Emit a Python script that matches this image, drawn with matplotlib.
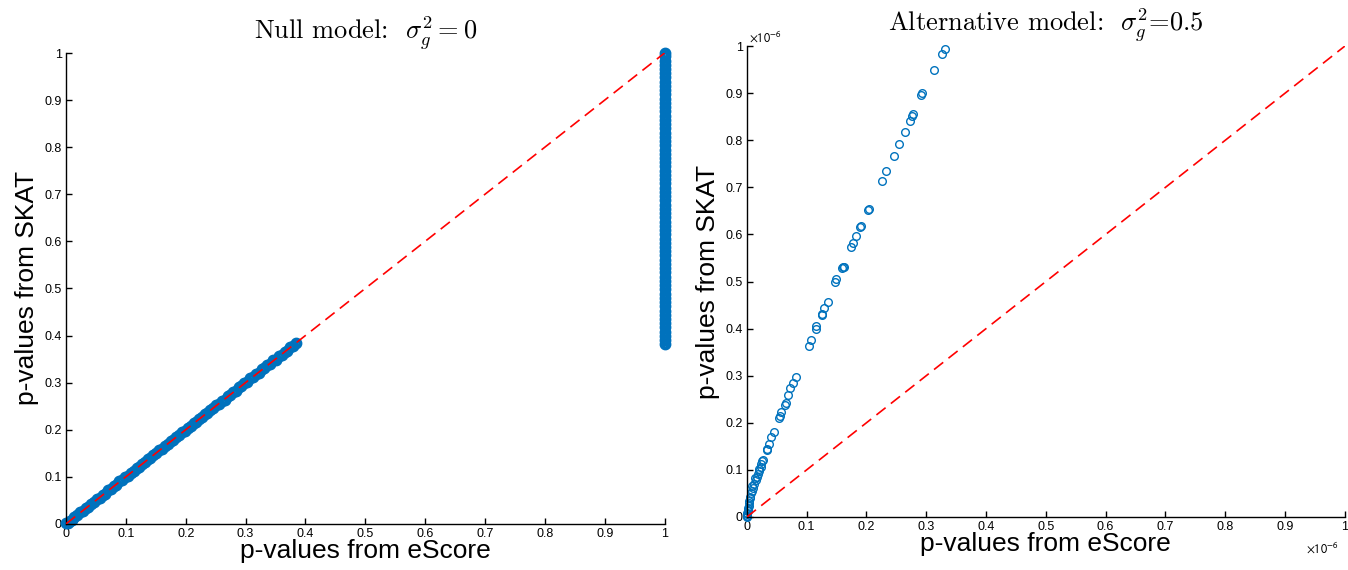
"""
Two QQ-style scatter panels: SKAT p-values against eScore p-values,
under the null model and under the alternative model.
"""

import matplotlib
matplotlib.use("Agg")
import matplotlib.pyplot as plt
from matplotlib.ticker import FormatStrFormatter


# null model: points lying on the diagonal
null_escore_diag = [
    0.000, 0.003, 0.006, 0.010, 0.014, 0.019, 0.024, 0.028, 0.033, 0.037,
    0.042, 0.047, 0.051, 0.056, 0.061, 0.065, 0.070, 0.075, 0.080, 0.084,
    0.089, 0.094, 0.099, 0.103, 0.108, 0.113, 0.118, 0.122, 0.127, 0.132,
    0.137, 0.141, 0.146, 0.151, 0.156, 0.160, 0.165, 0.170, 0.175, 0.179,
    0.184, 0.189, 0.194, 0.198, 0.203, 0.208, 0.213, 0.217, 0.222, 0.227,
    0.232, 0.236, 0.241, 0.246, 0.251, 0.255, 0.260, 0.265, 0.270, 0.274,
    0.279, 0.284, 0.289, 0.293, 0.298, 0.303, 0.308, 0.312, 0.317, 0.322,
    0.327, 0.331, 0.336, 0.341, 0.346, 0.350, 0.355, 0.360, 0.365, 0.369,
    0.374, 0.379, 0.384,
]
null_skat_diag = [
    0.001, 0.002, 0.007, 0.009, 0.015, 0.018, 0.025, 0.027, 0.034, 0.036,
    0.043, 0.046, 0.052, 0.055, 0.062, 0.064, 0.071, 0.074, 0.081, 0.083,
    0.090, 0.093, 0.100, 0.102, 0.109, 0.112, 0.119, 0.121, 0.128, 0.131,
    0.138, 0.140, 0.147, 0.150, 0.157, 0.159, 0.166, 0.169, 0.176, 0.178,
    0.185, 0.188, 0.195, 0.197, 0.204, 0.207, 0.214, 0.216, 0.223, 0.226,
    0.233, 0.235, 0.242, 0.245, 0.252, 0.254, 0.261, 0.264, 0.271, 0.273,
    0.280, 0.283, 0.290, 0.292, 0.299, 0.302, 0.309, 0.311, 0.318, 0.321,
    0.328, 0.330, 0.337, 0.340, 0.347, 0.349, 0.356, 0.359, 0.366, 0.368,
    0.375, 0.378, 0.385,
]

# null model: eScore p-value of 1, SKAT p-values spread from ~0.38 to 1
null_skat_col = [
    0.382, 0.390, 0.399, 0.408, 0.417, 0.426, 0.435, 0.444, 0.453, 0.462,
    0.471, 0.480, 0.489, 0.498, 0.507, 0.516, 0.525, 0.534, 0.543, 0.552,
    0.561, 0.570, 0.579, 0.588, 0.597, 0.606, 0.615, 0.624, 0.633, 0.642,
    0.651, 0.660, 0.669, 0.678, 0.687, 0.696, 0.705, 0.714, 0.723, 0.732,
    0.741, 0.750, 0.759, 0.768, 0.777, 0.786, 0.795, 0.804, 0.813, 0.822,
    0.831, 0.840, 0.849, 0.858, 0.867, 0.876, 0.885, 0.894, 0.903, 0.912,
    0.921, 0.930, 0.939, 0.948, 0.957, 0.966, 0.975, 0.984, 0.993, 1.000,
]
null_escore_col = [1.0] * len(null_skat_col)

# alternative model, values in units of 1e-6
alt_escore = [
    0.000, 0.000, 0.001, 0.001, 0.001, 0.002, 0.002, 0.002, 0.003, 0.004,
    0.004, 0.005, 0.006, 0.007, 0.008, 0.009, 0.011, 0.012, 0.013, 0.015,
    0.017, 0.019, 0.020, 0.021, 0.023, 0.024, 0.025, 0.027, 0.033, 0.034,
    0.037, 0.041, 0.045, 0.054, 0.055, 0.058, 0.064, 0.065, 0.069, 0.072,
    0.078, 0.083, 0.104, 0.107, 0.115, 0.116, 0.125, 0.126, 0.129, 0.136,
    0.148, 0.149, 0.160, 0.161, 0.162, 0.174, 0.178, 0.183, 0.190, 0.191,
    0.203, 0.204, 0.226, 0.232, 0.246, 0.255, 0.264, 0.273, 0.277, 0.278,
    0.292, 0.293, 0.313, 0.327, 0.331,
]
alt_skat = [
    0.000, 0.002, 0.003, 0.006, 0.009, 0.012, 0.015, 0.020, 0.024, 0.030,
    0.035, 0.040, 0.043, 0.050, 0.055, 0.065, 0.061, 0.070, 0.083, 0.079,
    0.085, 0.091, 0.098, 0.102, 0.107, 0.113, 0.118, 0.121, 0.142, 0.145,
    0.156, 0.169, 0.181, 0.210, 0.214, 0.224, 0.238, 0.242, 0.259, 0.273,
    0.285, 0.298, 0.363, 0.376, 0.400, 0.405, 0.429, 0.432, 0.443, 0.457,
    0.500, 0.505, 0.528, 0.532, 0.530, 0.573, 0.583, 0.597, 0.615, 0.618,
    0.651, 0.655, 0.713, 0.735, 0.767, 0.793, 0.818, 0.841, 0.852, 0.856,
    0.896, 0.900, 0.949, 0.983, 0.995,
]

ticks = [0, 0.1, 0.2, 0.3, 0.4, 0.5, 0.6, 0.7, 0.8, 0.9, 1]

BLUE = "#0072bd"
FONT = "Liberation Sans"


def style_axes(ax):
    ax.set_xlim(0, 1)
    ax.set_ylim(0, 1)
    ax.set_xticks(ticks)
    ax.set_yticks(ticks)
    ax.xaxis.set_major_formatter(FormatStrFormatter("%g"))
    ax.yaxis.set_major_formatter(FormatStrFormatter("%g"))
    ax.spines["top"].set_visible(False)
    ax.spines["right"].set_visible(False)
    ax.spines["left"].set_linewidth(1.0)
    ax.spines["bottom"].set_linewidth(1.0)
    ax.tick_params(direction="in", length=4, width=1.0, labelsize=9, pad=3)
    for label in ax.get_xticklabels() + ax.get_yticklabels():
        label.set_fontfamily(FONT)
    ax.set_xlabel("p-values from eScore", fontsize=19, fontfamily=FONT, labelpad=-1)
    ax.set_ylabel("p-values from SKAT", fontsize=19, fontfamily=FONT, labelpad=4)


fig = plt.figure(figsize=(13.48, 5.70), dpi=100)
ax1 = fig.add_axes([0.049, 0.081, 0.444, 0.826])
ax2 = fig.add_axes([0.554, 0.093, 0.4436, 0.826])

# left panel
ax1.plot([0, 1], [0, 1], "--", color="red", linewidth=1.2, dashes=(7, 4), zorder=3)
ax1.plot(null_escore_diag, null_skat_diag, "o", markerfacecolor="none",
         markeredgecolor=BLUE, markersize=5.5, markeredgewidth=3, clip_on=False, zorder=2)
ax1.plot(null_escore_col, null_skat_col, "o", markerfacecolor="none",
         markeredgecolor=BLUE, markersize=5.5, markeredgewidth=3, clip_on=False, zorder=2)
style_axes(ax1)
ax1.set_title(r"Null model:  $\sigma_g^2 = 0$", fontsize=19, fontfamily="cmr10",
              math_fontfamily="cm", pad=10)

# right panel
ax2.plot([0, 1], [0, 1], "--", color="red", linewidth=1.2, dashes=(7, 4), zorder=3)
ax2.plot(alt_escore, alt_skat, "o", markerfacecolor="none",
         markeredgecolor=BLUE, markersize=5.5, markeredgewidth=1.0, clip_on=False, zorder=2)
style_axes(ax2)
ax2.set_title(r"Alternative model:  $\sigma_g^2$=0.5", fontsize=19, fontfamily="cmr10",
              math_fontfamily="cm", pad=11)
ax2.text(0.003, 1.003, r"$\times10^{-6}$", transform=ax2.transAxes, fontsize=9,
         ha="left", va="bottom", math_fontfamily="stixsans")
ax2.text(0.99, -0.05, r"$\times10^{-6}$", transform=ax2.transAxes, fontsize=9,
         ha="right", va="top", math_fontfamily="stixsans")

fig.savefig("out.png", dpi=100)
